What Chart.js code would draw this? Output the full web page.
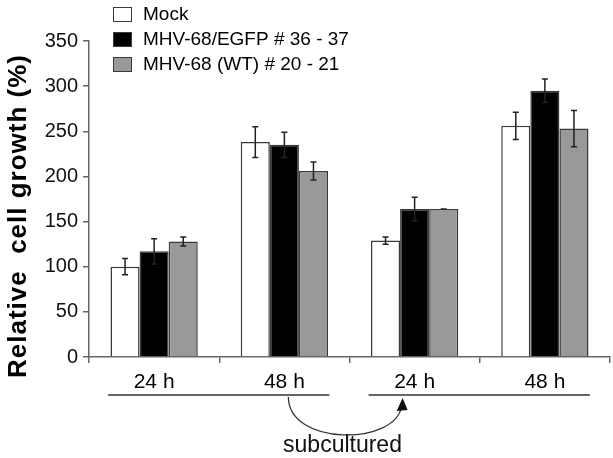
<!DOCTYPE html>
<html>
<head>
<meta charset="utf-8">
<script src="https://cdn.jsdelivr.net/npm/chart.js"></script>
<style>
  body { margin: 0; background: #fff; }
  canvas { display: block; }
</style>
</head>
<body>
<canvas id="c" width="613" height="458"></canvas>
<script>
// data
const groups = ['24 h', '48 h', '24 h', '48 h']
const seriesNames = ['Mock', 'MHV-68/EGFP # 36 - 37', 'MHV-68 (WT) # 20 - 21']
const mock = [100, 238, 129, 256]
const egfp = [117, 235, 164, 295]
const wt = [128, 206, 164, 253]
const mockErr = [9, 17, 4, 15]
const egfpErr = [14, 14, 13, 13]
const wtErr = [5, 10, 0, 20]
const yTicks = [0, 50, 100, 150, 200, 250, 300, 350]
const yTitle = 'Relative  cell growth (%)'

const FONT = "'Liberation Sans', Arial, sans-serif"
const edge = '#3a3a3a'

const data = {
  labels: groups,
  datasets: [
    { label: seriesNames[0], data: mock, err: mockErr, backgroundColor: '#ffffff' },
    { label: seriesNames[1], data: egfp, err: egfpErr, backgroundColor: '#000000' },
    { label: seriesNames[2], data: wt, err: wtErr, backgroundColor: '#999999' }
  ].map(d => Object.assign(d, { borderColor: edge, borderWidth: 1.5, barPercentage: 1, categoryPercentage: 0.67 }))
}

// error bars, computed through the y scale
const errorBars = {
  id: 'errorBars',
  afterDatasetsDraw(chart) {
    const ctx = chart.ctx
    const y = chart.scales.y
    ctx.save()
    ctx.strokeStyle = '#222'
    ctx.lineWidth = 1.5
    chart.data.datasets.forEach((ds, i) => {
      chart.getDatasetMeta(i).data.forEach((bar, j) => {
        const v = ds.data[j], e = ds.err[j]
        const top = y.getPixelForValue(v + e), bot = y.getPixelForValue(v - e)
        ctx.beginPath()
        ctx.moveTo(bar.x, top); ctx.lineTo(bar.x, bot)
        ctx.moveTo(bar.x - 3, top); ctx.lineTo(bar.x + 3, top)
        ctx.moveTo(bar.x - 3, bot); ctx.lineTo(bar.x + 3, bot)
        ctx.stroke()
      })
    })
    ctx.restore()
  }
}

// legend in the top-left corner, overlapping the plot
const cornerLegend = {
  id: 'cornerLegend',
  afterDraw(chart) {
    const ctx = chart.ctx
    ctx.save()
    ctx.font = '19px ' + FONT
    ctx.textBaseline = 'middle'
    chart.data.datasets.forEach((ds, i) => {
      const cy = 14 + i * 25
      ctx.fillStyle = ds.backgroundColor
      ctx.fillRect(113, cy - 7, 18, 14)
      ctx.strokeStyle = edge
      ctx.lineWidth = 1
      ctx.strokeRect(113.5, cy - 6.5, 18, 14)
      ctx.fillStyle = '#000'
      ctx.fillText(ds.label, 143, cy + 1)
    })
    ctx.restore()
  }
}

// y title, a bit lower than the axis centre like the original
const sideTitle = {
  id: 'sideTitle',
  afterDraw(chart) {
    const ctx = chart.ctx
    ctx.save()
    ctx.translate(19, 216)
    ctx.rotate(-Math.PI / 2)
    ctx.font = 'bold 26px ' + FONT
    ctx.letterSpacing = '1px'
    ctx.fillStyle = '#000'
    ctx.textAlign = 'center'
    ctx.textBaseline = 'middle'
    ctx.fillText(yTitle, 0, 0)
    ctx.restore()
  }
}

// lines under the time labels + "subcultured" arrow
const subculture = {
  id: 'subculture',
  afterDraw(chart) {
    const ctx = chart.ctx
    const x = chart.scales.x
    const c = groups.map((g, i) => x.getPixelForValue(i))
    const ly = 395
    ctx.save()
    ctx.strokeStyle = '#333'
    ctx.lineWidth = 1.3
    ctx.beginPath()
    ctx.moveTo(c[0] - 46, ly); ctx.lineTo(c[1] + 45, ly)
    ctx.moveTo(c[2] - 46, ly); ctx.lineTo(c[3] + 45, ly)
    ctx.stroke()

    const sx = c[1] + 4, tx = c[2] - 13
    ctx.beginPath()
    ctx.moveTo(sx, ly + 2)
    ctx.bezierCurveTo(sx, 446, tx - 6, 446, tx, 406)
    ctx.stroke()
    ctx.fillStyle = '#111'
    ctx.beginPath()
    ctx.moveTo(tx + 1, 398)
    ctx.lineTo(tx - 5, 411)
    ctx.lineTo(tx + 6, 410)
    ctx.closePath()
    ctx.fill()

    ctx.font = '23px ' + FONT
    ctx.textAlign = 'center'
    ctx.textBaseline = 'middle'
    ctx.fillText('subcultured', (c[1] + c[2]) / 2 - 7, 446)
    ctx.restore()
  }
}

new Chart(document.getElementById('c'), {
  type: 'bar',
  data: data,
  plugins: [errorBars, cornerLegend, sideTitle, subculture],
  options: {
    responsive: false,
    animation: false,
    layout: { padding: { top: 41, right: 3, left: 0, bottom: 0 } },
    plugins: { legend: { display: false }, tooltip: { enabled: false } },
    scales: {
      x: {
        afterFit: s => { s.height = 101 },
        grid: { display: true, offset: true, drawOnChartArea: false, tickLength: 6, color: '#666', lineWidth: 1.5 },
        border: { color: '#666', width: 1.5 },
        ticks: { color: '#000', font: { size: 21, family: FONT }, padding: 7 }
      },
      y: {
        min: 0, max: 350,
        afterFit: s => { s.width = 89 },
        afterBuildTicks: s => { s.ticks = yTicks.map(v => ({ value: v })) },
        grid: { display: true, drawOnChartArea: false, tickLength: 6, color: '#666', lineWidth: 1.5 },
        border: { color: '#666', width: 1.5 },
        ticks: { color: '#111', font: { size: 20, family: FONT }, padding: 5 }
      }
    }
  }
})
</script>
</body>
</html>
